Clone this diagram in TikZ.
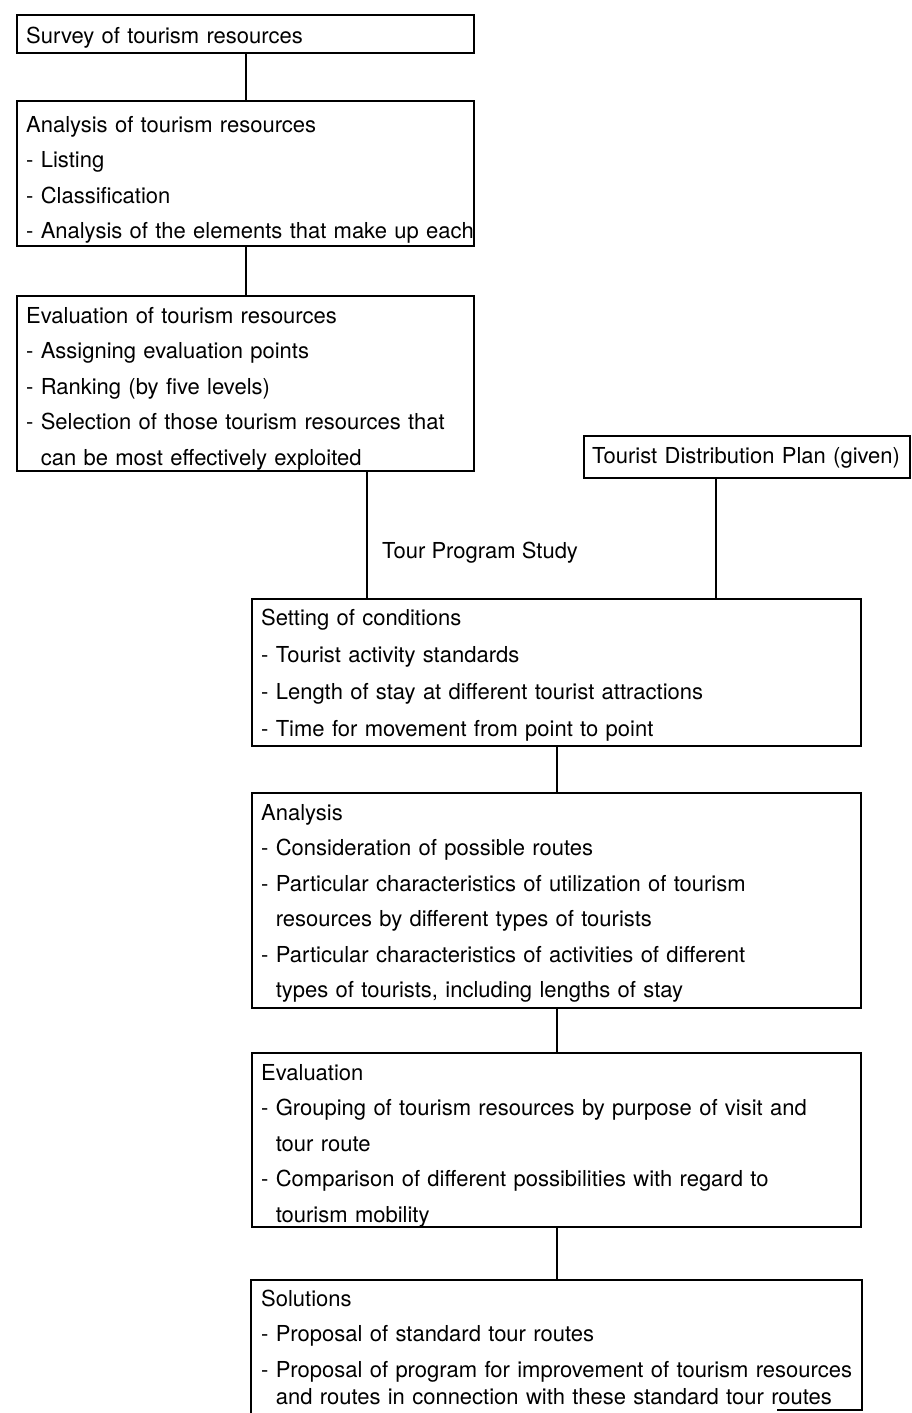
\documentclass[tikz,border=0pt]{standalone}
\usepackage{fontspec}
\setmainfont{TeX Gyre Heros}
\usetikzlibrary{calc}
\begin{document}
\begin{tikzpicture}[x=1pt,y=-1pt,
  box/.style={draw, line width=2.3pt, anchor=north west, inner xsep=9pt,
    inner ysep=0pt, align=left, font=\fontsize{22}{35.5}\selectfont},
  leftbox/.style={box, text width=439pt},
  rightbox/.style={box, text width=591pt},
  link/.style={line width=2.3pt},
  caption/.style={font=\fontsize{22}{26}\selectfont, inner sep=0pt, anchor=base west}]
\useasboundingbox (0,0) rectangle (911,1413);

% resource study column
\node[leftbox, text height=28pt, text depth=10pt] (survey) at (16,14)
  {Survey of tourism resources};
\node[leftbox, text height=31pt, text depth=114pt] (analysis) at (16,100)
  {Analysis of tourism resources\\- Listing\\- Classification\\\mbox{- Analysis of the elements that make up each}};
\node[leftbox, text height=27pt, text depth=148pt] (evalres) at (16,295)
  {Evaluation of tourism resources\\- Assigning evaluation points\\- Ranking (by five levels)\\- Selection of those tourism resources that\\\phantom{- }can be most effectively exploited};

% given plan
\node[box, inner xsep=8pt, text width=310pt, text height=27pt, text depth=15pt] (plan) at (583,435)
  {\mbox{Tourist Distribution Plan (given)}};

% tour program study column
\node[caption] (tps) at (382,558) {Tour Program Study};
\node[rightbox, text height=26pt, text depth=121pt,
  font=\fontsize{22}{37}\selectfont] (setting) at (251,598)
  {Setting of conditions\\- Tourist activity standards\\- Length of stay at different tourist attractions\\- Time for movement from point to point};
\node[rightbox, text height=27pt, text depth=188pt] (analysis2) at (251,792)
  {Analysis\\- Consideration of possible routes\\- Particular characteristics of utilization of tourism\\\phantom{- }resources by different types of tourists\\- Particular characteristics of activities of different\\\phantom{- }types of tourists, including lengths of stay};
\node[rightbox, text height=27pt, text depth=147pt] (evaluation) at (251,1052)
  {Evaluation\\- Grouping of tourism resources by purpose of visit and\\\phantom{- }tour route\\- Comparison of different possibilities with regard to\\\phantom{- }tourism mobility};
\node[rightbox, draw=none, text height=25pt, text depth=108pt] (solutions) at (251,1280)
  {Solutions\\- Proposal of standard tour routes\\\mbox{- Proposal of program for improvement of tourism resources}\\[-8pt]\phantom{- }and routes in connection with these standard tour routes};
\draw[link] (solutions.south west) -- (solutions.north west) -- (solutions.north east)
  -- ($(solutions.south east)+(0,-5)$) -- ($(solutions.south east)+(-85,-5)$);

% connectors
\coordinate (stemA) at (367,0);
\coordinate (stemB) at (716,0);
\draw[link] (survey) -- (analysis);
\draw[link] (analysis) -- (evalres);
\draw[link] (evalres.south -| stemA) -- (setting.north -| stemA);
\draw[link] (plan.south -| stemB) -- (setting.north -| stemB);
\draw[link] (setting) -- (analysis2);
\draw[link] (analysis2) -- (evaluation);
\draw[link] (evaluation) -- (solutions);
\end{tikzpicture}
\end{document}
